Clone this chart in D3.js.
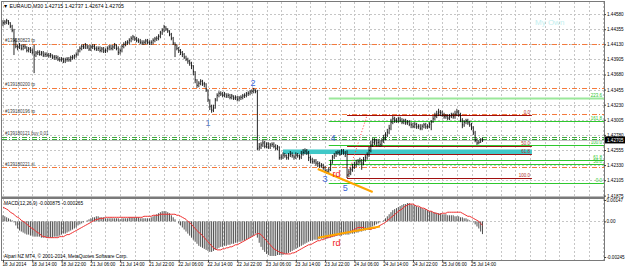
<!DOCTYPE html>
<html>
<head>
<meta charset="utf-8">
<script src="https://cdn.jsdelivr.net/npm/d3@7"></script>
<style>
body { margin: 0; background: #fff; }
text { font-family: "Liberation Sans", Arial, sans-serif; }
</style>
</head>
<body>
<div class="root"></div>
<script>
const width = 625;
const height = 269;

// EURAUD M30 bars
const highs = [
  1.4449,1.4449,1.4451,1.4449,1.4446,1.4442,1.4436,1.4422,1.4413,1.4415,
  1.4413,1.4413,1.4413,1.4410,1.4409,1.4409,1.4407,1.4412,1.4403,1.4404,
  1.4404,1.4403,1.4403,1.4401,1.4401,1.4400,1.4400,1.4398,1.4397,1.4397,
  1.4396,1.4394,1.4394,1.4393,1.4393,1.4394,1.4394,1.4396,1.4397,1.4398,
  1.4401,1.4406,1.4410,1.4413,1.4413,1.4415,1.4413,1.4412,1.4412,1.4413,
  1.4413,1.4410,1.4410,1.4410,1.4409,1.4409,1.4407,1.4410,1.4412,1.4412,
  1.4412,1.4415,1.4413,1.4410,1.4407,1.4413,1.4416,1.4418,1.4419,1.4422,
  1.4425,1.4427,1.4425,1.4424,1.4422,1.4421,1.4419,1.4419,1.4421,1.4421,
  1.4419,1.4419,1.4422,1.4424,1.4425,1.4428,1.4433,1.4437,1.4442,1.4440,
  1.4437,1.4434,1.4430,1.4424,1.4416,1.4413,1.4409,1.4406,1.4403,1.4400,
  1.4396,1.4393,1.4390,1.4387,1.4382,1.4373,1.4361,1.4358,1.4361,1.4360,
  1.4357,1.4355,1.4346,1.4331,1.4323,1.4323,1.4333,1.4340,1.4343,1.4343,
  1.4342,1.4342,1.4340,1.4340,1.4339,1.4339,1.4337,1.4337,1.4336,1.4336,
  1.4337,1.4339,1.4340,1.4342,1.4343,1.4345,1.4346,1.4348,1.4346,1.4345,
  1.4266,1.4267,1.4270,1.4269,1.4267,1.4267,1.4266,1.4267,1.4267,1.4264,
  1.4263,1.4261,1.4249,1.4252,1.4251,1.4249,1.4251,1.4254,1.4252,1.4249,
  1.4252,1.4251,1.4249,1.4254,1.4257,1.4258,1.4257,1.4254,1.4247,1.4244,
  1.4242,1.4242,1.4239,1.4238,1.4236,1.4235,1.4232,1.4227,1.4230,1.4241,
  1.4248,1.4251,1.4254,1.4255,1.4255,1.4257,1.4257,1.4254,1.4255,1.4227,
  1.4230,1.4235,1.4238,1.4241,1.4242,1.4244,1.4242,1.4245,1.4248,1.4252,
  1.4260,1.4269,1.4273,1.4273,1.4272,1.4272,1.4270,1.4273,1.4278,1.4282,
  1.4287,1.4293,1.4302,1.4306,1.4305,1.4303,1.4305,1.4305,1.4303,1.4302,
  1.4302,1.4300,1.4300,1.4297,1.4296,1.4297,1.4296,1.4294,1.4294,1.4294,
  1.4296,1.4296,1.4294,1.4297,1.4300,1.4306,1.4311,1.4314,1.4317,1.4315,
  1.4314,1.4311,1.4309,1.4309,1.4309,1.4311,1.4311,1.4314,1.4317,1.4315,
  1.4311,1.4303,1.4300,1.4302,1.4302,1.4299,1.4296,1.4291,1.4284,1.4273,
  1.4270,1.4273,1.42737
];
const lows = [
  1.4440,1.4442,1.4443,1.4442,1.4437,1.4431,1.4397,1.4407,1.4404,1.4406,
  1.4404,1.4404,1.4406,1.4401,1.4401,1.4400,1.4398,1.4370,1.4394,1.4397,
  1.4396,1.4396,1.4394,1.4394,1.4394,1.4393,1.4393,1.4391,1.4390,1.4390,
  1.4388,1.4387,1.4387,1.4385,1.4385,1.4387,1.4387,1.4387,1.4390,1.4391,
  1.4393,1.4396,1.4401,1.4404,1.4406,1.4406,1.4406,1.4403,1.4403,1.4406,
  1.4404,1.4403,1.4403,1.4401,1.4401,1.4400,1.4400,1.4401,1.4404,1.4404,
  1.4404,1.4406,1.4404,1.4397,1.4398,1.4401,1.4407,1.4410,1.4412,1.4413,
  1.4416,1.4419,1.4418,1.4416,1.4415,1.4413,1.4412,1.4412,1.4413,1.4413,
  1.4412,1.4412,1.4413,1.4416,1.4418,1.4419,1.4422,1.4427,1.4431,1.4433,
  1.4430,1.4425,1.4419,1.4412,1.4394,1.4404,1.4400,1.4397,1.4394,1.4391,
  1.4388,1.4384,1.4381,1.4376,1.4367,1.4355,1.4348,1.4349,1.4352,1.4351,
  1.4349,1.4342,1.4327,1.4315,1.4311,1.4312,1.4317,1.4328,1.4334,1.4336,
  1.4334,1.4334,1.4333,1.4333,1.4331,1.4331,1.4330,1.4330,1.4328,1.4328,
  1.4330,1.4331,1.4333,1.4334,1.4336,1.4337,1.4339,1.4340,1.4340,1.4255,
  1.4255,1.4257,1.4260,1.4258,1.4258,1.4257,1.4257,1.4260,1.4258,1.4255,
  1.4255,1.4241,1.4241,1.4242,1.4244,1.4241,1.4241,1.4245,1.4244,1.4241,
  1.4242,1.4244,1.4241,1.4242,1.4247,1.4249,1.4248,1.4239,1.4236,1.4235,
  1.4235,1.4232,1.4230,1.4229,1.4229,1.4226,1.4221,1.4220,1.4220,1.4224,
  1.4235,1.4242,1.4245,1.4248,1.4247,1.4248,1.4248,1.4245,1.4214,1.4215,
  1.4218,1.4223,1.4227,1.4230,1.4233,1.4235,1.4226,1.4233,1.4238,1.4241,
  1.4245,1.4252,1.4260,1.4263,1.4261,1.4261,1.4260,1.4261,1.4266,1.4270,
  1.4275,1.4279,1.4285,1.4294,1.4296,1.4296,1.4296,1.4297,1.4294,1.4294,
  1.4293,1.4293,1.4291,1.4288,1.4288,1.4288,1.4287,1.4287,1.4285,1.4285,
  1.4288,1.4287,1.4287,1.4288,1.4285,1.4296,1.4300,1.4303,1.4306,1.4306,
  1.4305,1.4302,1.4302,1.4300,1.4300,1.4303,1.4302,1.4302,1.4306,1.4305,
  1.4297,1.4288,1.4290,1.4294,1.4293,1.4290,1.4285,1.4278,1.4267,1.4263,
  1.4264,1.4266,1.42674
];
const closes = [
  1.4445,1.4446,1.4448,1.4445,1.4440,1.4434,1.4419,1.4410,1.4409,1.4412,
  1.4407,1.4410,1.4409,1.4404,1.4406,1.4404,1.4401,1.4397,1.4400,1.4401,
  1.4398,1.4400,1.4397,1.4398,1.4397,1.4396,1.4397,1.4394,1.4394,1.4393,
  1.4391,1.4390,1.4391,1.4388,1.4390,1.4391,1.4390,1.4393,1.4394,1.4396,
  1.4398,1.4403,1.4407,1.4410,1.4409,1.4412,1.4409,1.4406,1.4409,1.4410,
  1.4407,1.4406,1.4407,1.4404,1.4406,1.4403,1.4404,1.4407,1.4409,1.4407,
  1.4409,1.4412,1.4407,1.4401,1.4404,1.4410,1.4413,1.4415,1.4416,1.4419,
  1.4422,1.4424,1.4421,1.4419,1.4418,1.4416,1.4415,1.4416,1.4418,1.4416,
  1.4415,1.4416,1.4419,1.4421,1.4422,1.4425,1.4430,1.4434,1.4439,1.4436,
  1.4433,1.4428,1.4422,1.4415,1.4412,1.4407,1.4404,1.4401,1.4398,1.4394,
  1.4391,1.4388,1.4385,1.4381,1.4372,1.4360,1.4352,1.4355,1.4358,1.4354,
  1.4354,1.4345,1.4330,1.4320,1.4315,1.4318,1.4330,1.4337,1.4340,1.4339,
  1.4337,1.4339,1.4336,1.4337,1.4334,1.4336,1.4333,1.4334,1.4331,1.4333,
  1.4334,1.4336,1.4337,1.4339,1.4340,1.4342,1.4343,1.4345,1.4343,1.4258,
  1.4260,1.4263,1.4266,1.4261,1.4264,1.4260,1.4263,1.4264,1.4261,1.4258,
  1.4260,1.4244,1.4245,1.4248,1.4247,1.4244,1.4248,1.4249,1.4247,1.4245,
  1.4248,1.4247,1.4245,1.4249,1.4252,1.4254,1.4251,1.4244,1.4241,1.4238,
  1.4239,1.4236,1.4235,1.4232,1.4233,1.4229,1.4224,1.4223,1.4226,1.4236,
  1.4245,1.4248,1.4251,1.4252,1.4249,1.4254,1.4251,1.4249,1.4218,1.4221,
  1.4226,1.4230,1.4233,1.4236,1.4238,1.4239,1.4236,1.4241,1.4244,1.4248,
  1.4255,1.4263,1.4267,1.4269,1.4266,1.4267,1.4264,1.4269,1.4273,1.4278,
  1.4282,1.4288,1.4297,1.4302,1.4300,1.4299,1.4302,1.4300,1.4297,1.4299,
  1.4296,1.4297,1.4294,1.4293,1.4291,1.4294,1.4290,1.4291,1.4288,1.4291,
  1.4293,1.4290,1.4291,1.4294,1.4297,1.4302,1.4306,1.4309,1.4312,1.4311,
  1.4308,1.4305,1.4306,1.4303,1.4306,1.4308,1.4305,1.4309,1.4312,1.4308,
  1.4300,1.4293,1.4297,1.4299,1.4296,1.4293,1.4288,1.4281,1.4270,1.4266,
  1.4267,1.42715,1.42705
];

// MACD(12,26,9): main histogram and signal
const macdMain = [
  0.00042,0.00035,0.00028,0.00021,0.00014,0.00007,-0.00007,-0.00028,-0.00049,-0.00063,
  -0.00070,-0.00077,-0.00084,-0.00091,-0.00091,-0.00098,-0.00098,-0.00105,-0.00105,-0.00105,
  -0.00105,-0.00112,-0.00112,-0.00112,-0.00112,-0.00112,-0.00112,-0.00112,-0.00105,-0.00105,
  -0.00105,-0.00098,-0.00091,-0.00084,-0.00084,-0.00077,-0.00070,-0.00063,-0.00056,-0.00049,
  -0.00042,-0.00028,-0.00021,-0.00014,-0.00007,0.00000,0.00007,0.00014,0.00021,0.00028,
  0.00028,0.00035,0.00035,0.00028,0.00028,0.00028,0.00021,0.00021,0.00021,0.00021,
  0.00021,0.00021,0.00021,0.00021,0.00014,0.00021,0.00021,0.00021,0.00021,0.00028,
  0.00028,0.00028,0.00028,0.00028,0.00028,0.00021,0.00021,0.00021,0.00021,0.00021,
  0.00021,0.00028,0.00035,0.00042,0.00049,0.00056,0.00063,0.00070,0.00070,0.00070,
  0.00063,0.00056,0.00042,0.00028,0.00014,0.00000,-0.00014,-0.00028,-0.00042,-0.00056,
  -0.00070,-0.00084,-0.00098,-0.00112,-0.00126,-0.00140,-0.00154,-0.00168,-0.00175,-0.00182,
  -0.00189,-0.00196,-0.00203,-0.00210,-0.00210,-0.00203,-0.00196,-0.00189,-0.00182,-0.00175,
  -0.00175,-0.00168,-0.00168,-0.00161,-0.00161,-0.00154,-0.00154,-0.00147,-0.00147,-0.00140,
  -0.00140,-0.00133,-0.00133,-0.00126,-0.00119,-0.00112,-0.00105,-0.00098,-0.00084,-0.00112,
  -0.00147,-0.00175,-0.00196,-0.00210,-0.00224,-0.00231,-0.00238,-0.00238,-0.00238,-0.00238,
  -0.00231,-0.00231,-0.00231,-0.00231,-0.00224,-0.00224,-0.00217,-0.00210,-0.00203,-0.00196,
  -0.00189,-0.00182,-0.00175,-0.00168,-0.00161,-0.00154,-0.00147,-0.00140,-0.00133,-0.00133,
  -0.00126,-0.00126,-0.00126,-0.00119,-0.00119,-0.00119,-0.00119,-0.00119,-0.00112,-0.00112,
  -0.00105,-0.00105,-0.00098,-0.00098,-0.00098,-0.00098,-0.00091,-0.00091,-0.00091,-0.00091,
  -0.00084,-0.00084,-0.00084,-0.00077,-0.00077,-0.00070,-0.00070,-0.00063,-0.00063,-0.00056,
  -0.00049,-0.00042,-0.00035,-0.00028,-0.00021,-0.00014,-0.00007,0.00000,0.00007,0.00021,
  0.00035,0.00049,0.00063,0.00077,0.00084,0.00091,0.00098,0.00105,0.00112,0.00119,
  0.00119,0.00126,0.00126,0.00119,0.00112,0.00112,0.00105,0.00098,0.00098,0.00091,
  0.00084,0.00084,0.00077,0.00070,0.00070,0.00063,0.00063,0.00056,0.00056,0.00056,
  0.00049,0.00049,0.00049,0.00042,0.00042,0.00042,0.00042,0.00035,0.00035,0.00035,
  0.00028,0.00028,0.00021,0.00021,0.00014,0.00007,0.00000,-0.00007,-0.00021,-0.00035,
  -0.00049,-0.00070,-0.000875
];
const macdSignal = [
  0.00098,0.00091,0.00084,0.00077,0.00063,0.00056,0.00049,0.00035,0.00028,0.00021,
  0.00007,0.00000,-0.00007,-0.00021,-0.00028,-0.00042,-0.00049,-0.00056,-0.00070,-0.00077,
  -0.00084,-0.00098,-0.00105,-0.00105,-0.00112,-0.00112,-0.00112,-0.00112,-0.00112,-0.00112,
  -0.00112,-0.00105,-0.00105,-0.00105,-0.00098,-0.00091,-0.00091,-0.00084,-0.00077,-0.00070,
  -0.00063,-0.00056,-0.00049,-0.00042,-0.00035,-0.00028,-0.00021,-0.00014,-0.00007,0.00000,
  0.00007,0.00014,0.00014,0.00021,0.00021,0.00021,0.00028,0.00028,0.00028,0.00028,
  0.00028,0.00028,0.00028,0.00028,0.00028,0.00028,0.00028,0.00028,0.00028,0.00028,
  0.00028,0.00028,0.00028,0.00028,0.00028,0.00028,0.00028,0.00035,0.00035,0.00035,
  0.00035,0.00035,0.00042,0.00042,0.00042,0.00042,0.00049,0.00049,0.00049,0.00049,
  0.00049,0.00049,0.00049,0.00049,0.00049,0.00042,0.00042,0.00035,0.00028,0.00021,
  0.00014,0.00000,-0.00007,-0.00021,-0.00035,-0.00049,-0.00063,-0.00077,-0.00084,-0.00098,
  -0.00112,-0.00126,-0.00140,-0.00154,-0.00168,-0.00182,-0.00189,-0.00196,-0.00196,-0.00196,
  -0.00189,-0.00189,-0.00182,-0.00182,-0.00175,-0.00175,-0.00168,-0.00161,-0.00161,-0.00154,
  -0.00147,-0.00140,-0.00133,-0.00126,-0.00119,-0.00112,-0.00105,-0.00098,-0.00091,-0.00084,
  -0.00084,-0.00091,-0.00105,-0.00119,-0.00133,-0.00147,-0.00161,-0.00175,-0.00189,-0.00196,
  -0.00203,-0.00210,-0.00217,-0.00217,-0.00224,-0.00224,-0.00224,-0.00224,-0.00217,-0.00217,
  -0.00210,-0.00203,-0.00196,-0.00189,-0.00182,-0.00175,-0.00168,-0.00161,-0.00161,-0.00154,
  -0.00147,-0.00140,-0.00133,-0.00133,-0.00126,-0.00126,-0.00119,-0.00112,-0.00112,-0.00105,
  -0.00105,-0.00098,-0.00098,-0.00091,-0.00091,-0.00084,-0.00084,-0.00077,-0.00077,-0.00070,
  -0.00070,-0.00063,-0.00056,-0.00049,-0.00042,-0.00042,-0.00042,-0.00042,-0.00049,-0.00049,
  -0.00056,-0.00056,-0.00049,-0.00049,-0.00042,-0.00035,-0.00028,-0.00021,-0.00014,-0.00007,
  0.00007,0.00014,0.00028,0.00035,0.00049,0.00056,0.00070,0.00077,0.00084,0.00098,
  0.00105,0.00112,0.00119,0.00119,0.00119,0.00112,0.00105,0.00105,0.00098,0.00091,
  0.00091,0.00084,0.00077,0.00070,0.00070,0.00063,0.00056,0.00056,0.00049,0.00049,
  0.00056,0.00056,0.00056,0.00063,0.00063,0.00063,0.00063,0.00063,0.00063,0.00063,
  0.00063,0.00056,0.00049,0.00042,0.00035,0.00035,0.00028,0.00021,0.00014,0.00007,
  0.00000,-0.00014,-0.000265
];

// axis labels
const priceTicks = [1.44580, 1.44355, 1.44130, 1.43905, 1.43680, 1.43455, 1.43230,
  1.43005, 1.42780, 1.42555, 1.42330, 1.42105, 1.41875];
const macdTicks = [0.00147, 0, -0.00245];
const timeBars = [0, 16, 32, 48, 64, 80, 96, 112, 128, 144, 160, 176, 192, 208, 224, 240, 256];
const timeLabels = ["18 Jul 2014", "18 Jul 14:00", "18 Jul 22:00", "21 Jul 06:00", "21 Jul 14:00",
  "21 Jul 22:00", "22 Jul 06:00", "22 Jul 14:00", "22 Jul 22:00", "23 Jul 06:00", "23 Jul 14:00",
  "23 Jul 22:00", "24 Jul 06:00", "24 Jul 14:00", "24 Jul 22:00", "25 Jul 06:00", "25 Jul 14:00"];

// order lines
const orderPrices = [1.4414, 1.4348, 1.4309, 1.4275, 1.4272, 1.4230];
const orderLabels = ["#139180823 tp", "#139180200 tp", "#139180196 tp", "#139180121 buy 0.01", "", "#139180221 sl"];
const orderKinds = ["tp", "tp", "tp", "buy", "buy", "sl"];

// fibo objects
const fiboRedBars = [188, 199, 289];
const fiboRedPrices = [1.4214, 1.4308];
const fiboRedLevels = [0, 50, 61.8, 100];
const fiboGreenBars = [178, 330];
const fiboGreenPrices = [1.42063, 1.4263];
const fiboGreenLevels = [0, 50, 61.8, 100, 161.8, 223.6];

const boxBars = [153, 289];
const boxPrices = [1.42563, 1.42495];

const waveLabels = ["1", "2", "3", "4", "5"];
const waveBars = [112, 136.6, 176, 180.3, 187];
const wavePrices = [1.42913, 1.43509, 1.42078, 1.42689, 1.41944];

const trendBars = [172, 202];
const trendPrices = [1.42272, 1.41929];
const macdTrendBars = [172, 206];
const macdTrendValues = [-0.00112, -0.00035];

const N = closes.length;

const svg = d3.select(".root").append("svg")
  .attr("width", width).attr("height", height)
  .style("display", "block");

svg.append("rect").attr("width", width).attr("height", height).attr("fill", "#fff");

const x = d3.scaleLinear().domain([0, 256]).range([3, 471.5]);
const yMain = d3.scaleLinear().domain([1.4188, 1.4458]).range([195.3, 14.1]);
const yMacd = d3.scaleLinear().domain([-0.00245, 0.00147]).range([257, 200]);

const right = 604;
const mainTop = 2, mainBottom = 196.5;
const macdTop = 199, macdBottom = 260;

svg.append("clipPath").attr("id", "clipMain")
  .append("rect").attr("x", 2).attr("y", mainTop).attr("width", right - 2).attr("height", mainBottom - mainTop);
svg.append("clipPath").attr("id", "clipMacd")
  .append("rect").attr("x", 2).attr("y", macdTop).attr("width", right - 2).attr("height", macdBottom - macdTop);

const main = svg.append("g").attr("clip-path", "url(#clipMain)");
const sub = svg.append("g").attr("clip-path", "url(#clipMacd)");

// grid
const gridBars = d3.range(0, 330, 8);
const gridColor = "#c6c6c6";
[main, sub].forEach((g, k) => {
  g.selectAll("line.vg").data(gridBars).join("line")
    .attr("x1", d => Math.round(x(d)) + 0.5).attr("x2", d => Math.round(x(d)) + 0.5)
    .attr("y1", k ? macdTop : mainTop).attr("y2", k ? macdBottom : mainBottom)
    .attr("stroke", gridColor).attr("stroke-dasharray", "2,2");
});
main.selectAll("line.hg").data(priceTicks.slice(0, -1)).join("line")
  .attr("x1", 2).attr("x2", right)
  .attr("y1", d => Math.round(yMain(d)) + 0.5).attr("y2", d => Math.round(yMain(d)) + 0.5)
  .attr("stroke", gridColor).attr("stroke-dasharray", "2,2");
sub.append("line")
  .attr("x1", 2).attr("x2", right)
  .attr("y1", Math.round(yMacd(0)) + 0.5).attr("y2", Math.round(yMacd(0)) + 0.5)
  .attr("stroke", gridColor).attr("stroke-dasharray", "2,2");

// text "My Own"
main.append("text").attr("x", 535).attr("y", 25).attr("font-size", 8)
  .attr("fill", "#c4f0f0").text("My Own");

// fibo green (ray to the right)
const gp = l => fiboGreenPrices[0] + (fiboGreenPrices[1] - fiboGreenPrices[0]) * l / 100;
main.selectAll("line.fg").data(fiboGreenLevels).join("line")
  .attr("x1", x(fiboGreenBars[0])).attr("x2", right)
  .attr("y1", d => Math.round(yMain(gp(d))) + 0.5).attr("y2", d => Math.round(yMain(gp(d))) + 0.5)
  .attr("stroke", d => d === 223.6 ? "#9be89b" : "#2ec82e")
  .attr("stroke-width", d => d === 223.6 ? 2 : 1);
main.selectAll("text.fg").data(fiboGreenLevels).join("text")
  .attr("x", right - 2).attr("y", d => yMain(gp(d)) - 1)
  .attr("text-anchor", "end").attr("font-size", 4.5).attr("fill", "#2ec82e")
  .text(d => d.toFixed(1));

// teal box
main.append("rect")
  .attr("x", x(boxBars[0])).attr("width", x(boxBars[1]) - x(boxBars[0]))
  .attr("y", yMain(boxPrices[0])).attr("height", yMain(boxPrices[1]) - yMain(boxPrices[0]))
  .attr("fill", "#40c8c8");

// fibo dark red
const rp = l => fiboRedPrices[1] + (fiboRedPrices[0] - fiboRedPrices[1]) * l / 100;
main.selectAll("line.fr").data(fiboRedLevels).join("line")
  .attr("x1", x(fiboRedBars[0])).attr("x2", x(fiboRedBars[2]))
  .attr("y1", d => Math.round(yMain(rp(d))) + 0.5).attr("y2", d => Math.round(yMain(rp(d))) + 0.5)
  .attr("stroke", "#a01010");
main.selectAll("text.fr").data(fiboRedLevels).join("text")
  .attr("x", x(fiboRedBars[2]) - 2).attr("y", d => yMain(rp(d)) - 1)
  .attr("text-anchor", "end").attr("font-size", 4.5).attr("fill", "#b03030")
  .text(d => d.toFixed(1));
main.append("line")
  .attr("x1", x(fiboRedBars[0])).attr("y1", yMain(fiboRedPrices[0]))
  .attr("x2", x(fiboRedBars[1])).attr("y2", yMain(fiboRedPrices[1]))
  .attr("stroke", "#ff4040").attr("stroke-dasharray", "1,2");

// order lines
const orderColor = k => k === "buy" ? "#3aa83a" : "#f47a3c";
main.selectAll("line.ord").data(orderPrices).join("line")
  .attr("x1", 2).attr("x2", right)
  .attr("y1", d => Math.round(yMain(d)) + 0.5).attr("y2", d => Math.round(yMain(d)) + 0.5)
  .attr("stroke", (d, i) => orderColor(orderKinds[i]))
  .attr("stroke-dasharray", "5,2,1,2");
main.selectAll("text.ord").data(orderPrices).join("text")
  .attr("x", 5).attr("y", d => yMain(d) - 1.5)
  .attr("font-size", 4.5).attr("fill", "#404040")
  .text((d, i) => orderLabels[i]);

// bid line
main.append("line")
  .attr("x1", 2).attr("x2", right)
  .attr("y1", Math.round(yMain(closes[N - 1])) + 0.5).attr("y2", Math.round(yMain(closes[N - 1])) + 0.5)
  .attr("stroke", "#c0c0c0");

// bars
const idx = d3.range(N);
main.selectAll("line.hl").data(idx).join("line")
  .attr("x1", i => x(i)).attr("x2", i => x(i))
  .attr("y1", i => yMain(highs[i])).attr("y2", i => yMain(lows[i]))
  .attr("stroke", "#000").attr("stroke-width", 0.85);
main.selectAll("line.cl").data(idx).join("line")
  .attr("x1", i => x(i)).attr("x2", i => x(i) + 0.9)
  .attr("y1", i => yMain(closes[i])).attr("y2", i => yMain(closes[i]))
  .attr("stroke", "#000").attr("stroke-width", 0.8);

// orange trend line + labels
main.append("line")
  .attr("x1", x(trendBars[0])).attr("y1", yMain(trendPrices[0]))
  .attr("x2", x(trendBars[1])).attr("y2", yMain(trendPrices[1]))
  .attr("stroke", "#ffa500").attr("stroke-width", 2);
main.append("text").attr("x", x(180)).attr("y", yMain(1.42153))
  .attr("font-size", 9).attr("fill", "#f01818").text("rd");
main.selectAll("text.wave").data(waveLabels).join("text")
  .attr("x", (d, i) => x(waveBars[i])).attr("y", (d, i) => yMain(wavePrices[i]))
  .attr("text-anchor", "middle").attr("font-size", 9)
  .attr("fill", (d, i) => i === 0 ? "#5a7cc8" : "#3a64d8")
  .text(d => d);

// title
svg.append("text").attr("x", 3).attr("y", 8).attr("font-size", 5.2).attr("fill", "#000")
  .text("\u25BC EURAUD,M30  1.42715 1.42737 1.42674 1.42705");

// MACD histogram + signal
sub.selectAll("line.h").data(idx).join("line")
  .attr("x1", i => x(i)).attr("x2", i => x(i))
  .attr("y1", yMacd(0)).attr("y2", i => yMacd(macdMain[i]))
  .attr("stroke", "#505050").attr("stroke-width", 1);
sub.append("path")
  .attr("d", d3.line().x(i => x(i)).y(i => yMacd(macdSignal[i]))(idx))
  .attr("fill", "none").attr("stroke", "#f03030").attr("stroke-width", 1);
sub.append("line")
  .attr("x1", x(macdTrendBars[0])).attr("y1", yMacd(macdTrendValues[0]))
  .attr("x2", x(macdTrendBars[1])).attr("y2", yMacd(macdTrendValues[1]))
  .attr("stroke", "#ffa500").attr("stroke-width", 2);
sub.append("text").attr("x", x(180)).attr("y", yMacd(-0.00147) + 3)
  .attr("font-size", 9).attr("fill", "#f01818").text("rd");
svg.append("text").attr("x", 4).attr("y", 205).attr("font-size", 4.8).attr("fill", "#000")
  .text("MACD(12,26,9) -0.000875 -0.000265");
svg.append("text").attr("x", 4).attr("y", 258).attr("font-size", 4.8).attr("fill", "#000")
  .text("Alpari NZ MT4, \u00A9 2001-2014, MetaQuotes Software Corp.");

// frame
const frame = svg.append("g").attr("fill", "none").attr("stroke", "#7a7a7a");
frame.append("line").attr("x1", 1).attr("x2", right).attr("y1", 1.5).attr("y2", 1.5);
frame.append("line").attr("x1", 1.5).attr("x2", 1.5).attr("y1", 1).attr("y2", macdBottom);
frame.append("line").attr("x1", right + 0.5).attr("x2", right + 0.5).attr("y1", 1).attr("y2", macdBottom + 1);
frame.append("line").attr("x1", 1).attr("x2", right).attr("y1", macdBottom + 0.5).attr("y2", macdBottom + 0.5);
svg.append("rect").attr("x", 1).attr("y", mainBottom).attr("width", right).attr("height", 2.5).attr("fill", "#7a7a7a");

// axes
const num = d => d3.format(".5f")(d).replace("\u2212", "-");
const styleAxis = g => {
  g.select(".domain").remove();
  g.selectAll("line").attr("stroke", "#404040");
  g.selectAll("text").attr("font-size", 4.6).attr("fill", "#000")
    .attr("font-family", "Liberation Sans, Arial, sans-serif");
};
svg.append("g").attr("transform", `translate(${right},0)`)
  .call(d3.axisRight(yMain).tickValues(priceTicks).tickSize(2).tickPadding(1).tickFormat(num))
  .call(styleAxis);
svg.append("g").attr("transform", `translate(${right},0)`)
  .call(d3.axisRight(yMacd).tickValues(macdTicks).tickSize(2).tickPadding(0.5)
    .tickFormat(d => d === 0 ? "0.00" : num(d)))
  .call(styleAxis);
svg.append("g").attr("transform", `translate(0,${macdBottom})`)
  .call(d3.axisBottom(x).tickValues(timeBars).tickSize(2).tickPadding(1).tickFormat((d, i) => timeLabels[i]))
  .call(styleAxis)
  .call(g => g.selectAll("text").attr("text-anchor", "start").attr("dx", -1));

// current price box
const cy = yMain(closes[N - 1]);
svg.append("rect").attr("x", right + 1).attr("y", cy - 3.5).attr("width", 20).attr("height", 7).attr("fill", "#000");
svg.append("text").attr("x", right + 3).attr("y", cy + 1.8).attr("font-size", 4.6).attr("fill", "#fff")
  .text(num(closes[N - 1]));
</script>
</body>
</html>
